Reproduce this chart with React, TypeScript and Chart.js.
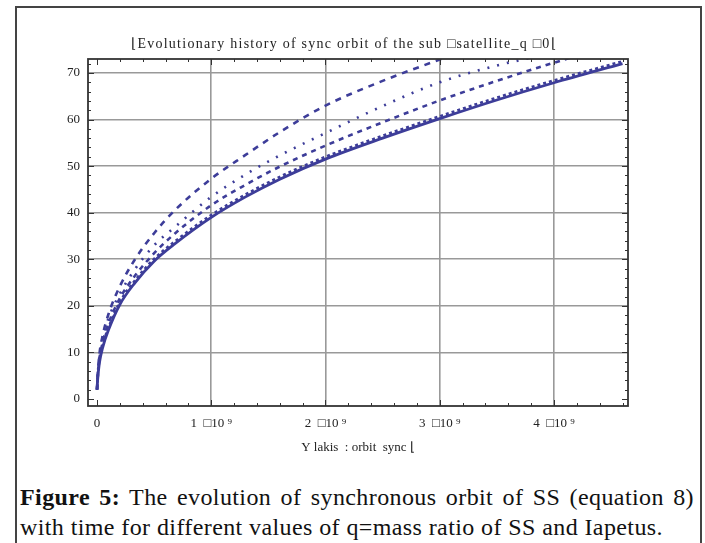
import React, { useEffect, useRef } from 'react';
import { Chart, registerables } from 'chart.js';

Chart.register(...registerables);

// time in units of 1e9 (years)
const timeGyr = [0, 0.005, 0.02, 0.05, 0.1, 0.2, 0.33, 0.5, 0.68, 1.0, 1.3, 1.6, 2.0, 2.5, 3.0, 3.5, 4.0, 4.6];
const seriesLongDash = [2, 4.8, 9.4, 13.7, 18.2, 24.2, 29.9, 35.6, 40.5, 47.3, 52.4, 57.3, 63.0, 68.3, 72.9, 77.5, 82.0, 87.0];
const seriesDotted = [2, 4.6, 9.0, 13.1, 17.3, 22.6, 27.8, 33.0, 36.9, 43.4, 48.2, 52.3, 57.1, 62.9, 68.0, 71.6, 74.3, 77.5];
const seriesDashed = [2, 4.3, 8.4, 12.2, 16.2, 21.6, 26.4, 31.3, 35.5, 41.6, 46.0, 49.9, 54.4, 59.4, 64.1, 68.3, 72.2, 76.5];
const seriesFineDash = [2.2, 4.4, 8.1, 11.6, 15.3, 20.8, 25.4, 30.1, 33.8, 39.5, 43.9, 47.7, 52.0, 56.5, 60.7, 64.7, 68.4, 72.5];
const seriesSolid = [2, 4.0, 7.6, 11.1, 14.8, 20.3, 24.9, 29.6, 33.3, 39.0, 43.4, 47.2, 51.5, 56.0, 60.2, 64.2, 67.9, 72.0];

const titleText = '\u230AEvolutionary history of sync orbit of the sub \u25A1satellite_q \u25A10\u230A';
const xAxisTitle = 'Y lakis  : orbit  sync \u230A';
const xTickValues = [0, 1, 2, 3, 4];
const yTickValues = [0, 10, 20, 30, 40, 50, 60, 70];

const LINE = '#3d3d99';

const toPoints = (ys: number[]) => timeGyr.map((t, i) => ({ x: t * 1e9, y: ys[i] }));

const framePlugin = {
  id: 'mmaFrame',
  afterDatasetsDraw(chart: any) {
    const { ctx, chartArea: a, scales } = chart;
    const xs = scales.x;
    const ys = scales.y;
    ctx.save();
    ctx.strokeStyle = '#333';
    ctx.lineWidth = 1;
    ctx.beginPath();
    for (let i = 0; i <= 23; i++) {
      const v = i * 0.2e9;
      const px = Math.round(xs.getPixelForValue(v)) + 0.5;
      const len = i % 5 === 0 ? 6 : 3;
      ctx.moveTo(px, a.bottom);
      ctx.lineTo(px, a.bottom - len);
      ctx.moveTo(px, a.top);
      ctx.lineTo(px, a.top + len);
    }
    for (let i = 0; i <= 36; i++) {
      const v = i * 2;
      const py = Math.round(ys.getPixelForValue(v)) + 0.5;
      const len = i % 5 === 0 ? 6 : 3;
      ctx.moveTo(a.left, py);
      ctx.lineTo(a.left + len, py);
      ctx.moveTo(a.right, py);
      ctx.lineTo(a.right - len, py);
    }
    ctx.stroke();
    ctx.lineWidth = 1.8;
    ctx.strokeRect(a.left, a.top, a.right - a.left, a.bottom - a.top);
    // title
    ctx.fillStyle = '#222';
    ctx.font = '14px "Liberation Serif"';
    ctx.textAlign = 'center';
    ctx.textBaseline = 'middle';
    try { (ctx as any).letterSpacing = '1.25px'; } catch (e) {}
    ctx.fillText(titleText, (a.left + a.right) / 2 - 14, a.top - 15);
    ctx.restore();
  },
};

export default function App() {
  const ref = useRef<HTMLCanvasElement | null>(null);
  useEffect(() => {
    if (!ref.current) return;
    const common = { borderColor: LINE, pointRadius: 0, cubicInterpolationMode: 'monotone', fill: false, clip: 0 };
    const chart = new Chart(ref.current, {
      type: 'line',
      data: {
        datasets: [
          { ...common, data: toPoints(seriesLongDash), borderWidth: 2.6, borderDash: [6, 6] } as any,
          { ...common, data: toPoints(seriesDotted), borderWidth: 2.6, borderDash: [2, 8] } as any,
          { ...common, data: toPoints(seriesDashed), borderWidth: 2.6, borderDash: [5, 5] } as any,
          { ...common, data: toPoints(seriesFineDash), borderWidth: 2.6, borderDash: [3, 3] } as any,
          { ...common, data: toPoints(seriesSolid), borderWidth: 2.8 } as any,
        ],
      },
      options: {
        animation: false,
        responsive: false,
        devicePixelRatio: 1,
        layout: { padding: { top: 51, right: 70, left: 0, bottom: 2 } },
        plugins: { legend: { display: false }, tooltip: { enabled: false }, title: { display: false } },
        scales: {
          x: {
            type: 'linear',
            min: -0.079e9,
            max: 4.648e9,
            afterFit: (s: any) => { s.height = 60; },
            afterBuildTicks: (s: any) => { s.ticks = xTickValues.map((v) => ({ value: v * 1e9 })); },
            grid: {
              drawTicks: false,
              color: (c: any) => (c.tick && c.tick.value === 0 ? 'rgba(0,0,0,0)' : '#999'),
              lineWidth: 1.6,
            },
            border: { display: false },
            ticks: {
              padding: 10,
              color: '#222',
              font: { family: 'Liberation Serif', size: 13 },
              maxRotation: 0,
              callback: (v: any) => (v === 0 ? '0' : `${Math.round(v / 1e9)}  \u25A110 \u2079`),
            },
            title: {
              display: true,
              text: xAxisTitle,
              color: '#222',
              font: { family: 'Liberation Serif', size: 13 },
              padding: { top: 0, bottom: 11 },
            },
          },
          y: {
            type: 'linear',
            min: -1.5,
            max: 73,
            afterFit: (s: any) => { s.width = 71; },
            afterBuildTicks: (s: any) => { s.ticks = yTickValues.map((v) => ({ value: v })); },
            grid: {
              drawTicks: false,
              color: (c: any) => (c.tick && c.tick.value === 0 ? 'rgba(0,0,0,0)' : '#999'),
              lineWidth: 1.6,
            },
            border: { display: false },
            ticks: {
              padding: 8,
              color: '#222',
              font: { family: 'Liberation Serif', size: 13 },
            },
          },
        },
      },
      plugins: [framePlugin],
    });
    return () => chart.destroy();
  }, []);

  const captionFont: React.CSSProperties = {
    fontFamily: '"Liberation Serif", serif',
    fontSize: 24,
    lineHeight: '30px',
    color: '#111',
    whiteSpace: 'nowrap',
    letterSpacing: '0.4px',
  };

  return (
    <div
      style={{
        position: 'absolute',
        left: 15,
        top: 6,
        width: 687,
        height: 560,
        boxSizing: 'border-box',
        borderLeft: '2px solid #444',
        borderTop: '2px solid #444',
        borderRight: '2px solid #444',
        background: '#fff',
      }}
    >
      <canvas ref={ref} width={681} height={460} style={{ position: 'absolute', left: 0, top: 0, width: 681, height: 460 }} />
      <div style={{ position: 'absolute', left: 3, top: 474, width: 674 }}>
        <div style={{ ...captionFont, whiteSpace: 'normal', textAlign: 'justify', textAlignLast: 'justify' } as any}>
          <b>Figure 5:</b> The evolution of synchronous orbit of SS (equation 8)
        </div>
        <div style={captionFont}>with time for different values of q=mass ratio of SS and Iapetus.</div>
      </div>
    </div>
  );
}
